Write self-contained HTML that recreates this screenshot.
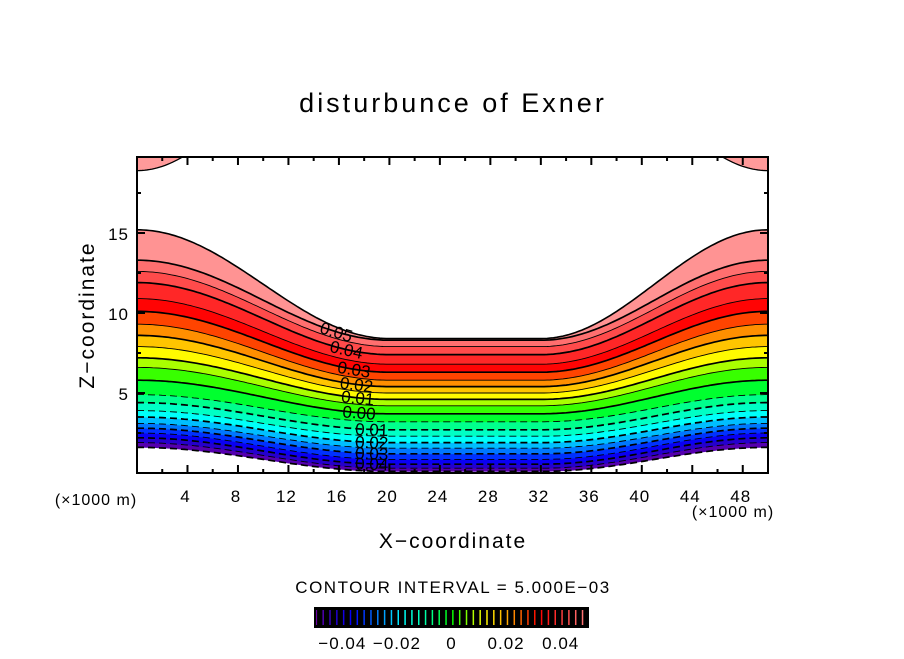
<!DOCTYPE html>
<html><head><meta charset="utf-8"><style>
html,body{margin:0;padding:0;background:#fff}
svg text{font-family:"Liberation Sans",sans-serif;fill:#000}
</style></head><body>
<svg id="chart" width="904" height="654" xmlns="http://www.w3.org/2000/svg">
<text x="453" y="112" font-size="27" text-anchor="middle" letter-spacing="3">disturbunce of Exner</text>
<g id="plot"></g>
<text transform="translate(94,315) rotate(-90)" font-size="21" text-anchor="middle" letter-spacing="2">Z−coordinate</text>
<text x="453" y="548" font-size="21" text-anchor="middle" letter-spacing="2">X−coordinate</text>
<text x="96" y="505" font-size="16" text-anchor="middle" letter-spacing="1">(×1000 m)</text>
<text x="733" y="517" font-size="16" text-anchor="middle" letter-spacing="1">(×1000 m)</text>
<text x="453" y="593" font-size="17" text-anchor="middle" letter-spacing="1.5">CONTOUR INTERVAL = 5.000E−03</text>
<g id="cbar"></g>
</svg>
<script>
// data
const levels = [-0.05,-0.045,-0.04,-0.035,-0.03,-0.025,-0.02,-0.015,-0.01,-0.005,0,0.005,0.01,0.015,0.02,0.025,0.03,0.035,0.04,0.045,0.05,0.055];
const edgeZ  = [1.6,1.9,2.2,2.5,2.8,3.1,3.5,3.9,4.4,4.9,5.8,6.6,7.2,7.9,8.6,9.3,10.1,10.9,11.9,12.6,13.3,15.2];
const centerZ= [0.1,0.3,0.55,0.85,1.2,1.55,1.9,2.3,2.7,3.2,3.7,4.2,4.6,5.0,5.4,5.8,6.3,6.8,7.4,7.9,8.3,8.4];
const labelLevels = [0.05,0.04,0.03,0.02,0.01,0,-0.01,-0.02,-0.03,-0.04];
const labelText = ["0.05","0.04","0.03","0.02","0.01","0.00","0.01","0.02","0.03","0.04"];
const labelX = [15.8,16.6,17.2,17.4,17.5,17.6,18.6,18.6,18.6,18.6];
const xTicks = [4,8,12,16,20,24,28,32,36,40,44,48];
const zTicks = [5,10,15];
const cbarTicks = [-0.04,-0.02,0,0.02,0.04];
const cbarTickText = ["−0.04","−0.02","0","0.02","0.04"];

const NS="http://www.w3.org/2000/svg";
const X0=137,X1=768,Y0=157,Y1=473, XMAX=50, ZMAX=19.75;
const sx=x=>X0+x/XMAX*(X1-X0);
const sz=z=>Y1-z/ZMAX*(Y1-Y0);
function shape(x){ if(x<20) return (1+Math.cos(Math.PI*x/20))/2; if(x>32) return (1-Math.cos(Math.PI*(x-32)/18))/2; return 0; }
function lz(i,x){ return centerZ[i]+shape(x)*(edgeZ[i]-centerZ[i]); }
function mk(tag,attrs,parent){const e=document.createElementNS(NS,tag);for(const k in attrs)e.setAttribute(k,attrs[k]);parent.appendChild(e);return e;}
const stops=[[-0.05,[110,0,160]],[-0.043,[40,0,200]],[-0.036,[0,0,255]],[-0.026,[0,140,255]],[-0.018,[0,255,255]],[-0.008,[0,255,150]],[0.0,[0,255,0]],[0.008,[180,255,0]],[0.012,[255,255,0]],[0.022,[255,150,0]],[0.032,[255,0,0]],[0.055,[255,165,165]]];
function col(v){ if(v<=stops[0][0])return 'rgb('+stops[0][1]+')';
 for(let i=1;i<stops.length;i++){ if(v<=stops[i][0]){const a=stops[i-1],b=stops[i],t=(v-a[0])/(b[0]-a[0]);return 'rgb('+a[1].map((c,j)=>Math.round(c+(b[1][j]-c)*t)).join(',')+')';}}
 return 'rgb('+stops[stops.length-1][1]+')';}
const plot=document.getElementById('plot');
const xs=[];for(let x=0;x<=XMAX+1e-9;x+=0.25)xs.push(x);
function curve(i){return xs.map(x=>sx(x).toFixed(1)+','+sz(lz(i,x)).toFixed(1));}
for(let i=0;i<levels.length-1;i++){
 const top=curve(i+1), bot=curve(i).reverse();
 const c=col((levels[i]+levels[i+1])/2);
 const p=mk('polygon',{points:top.concat(bot).join(' '),fill:c,stroke:c,'stroke-width':0.6},plot);
 
 
}
const cornerL=[],cornerR=[];
for(let x=0;x<=3.6;x+=0.2){cornerL.push(sx(x)+','+sz(18.9+0.066*x*x));}
const cl=mk('polygon',{points:[sx(0)+','+sz(ZMAX)].concat(cornerL).concat([sx(3.6)+','+sz(ZMAX)]).join(' '),fill:'#ff9a9a',stroke:'#000','stroke-width':1.3},plot);

for(let x=0;x<=3.6;x+=0.2){cornerR.push(sx(XMAX-x)+','+sz(18.9+0.066*x*x));}
const cr=mk('polygon',{points:[sx(XMAX)+','+sz(ZMAX)].concat(cornerR).concat([sx(XMAX-3.6)+','+sz(ZMAX)]).join(' '),fill:'#ff9a9a',stroke:'#000','stroke-width':1.3},plot);

for(let i=0;i<levels.length;i++){
 const v=levels[i], major=Math.abs(Math.round(v*100)-v*100)<1e-6;
 const attrs={points:curve(i).join(' '),fill:'none',stroke:'#000','stroke-width':(i===levels.length-1)?1.6:(major?1.7:0.9)};
 if(v<-1e-9)attrs['stroke-dasharray']='7,4';
 const l=mk('polyline',attrs,plot);
 
 
}
for(let k=0;k<labelLevels.length;k++){
 const i=levels.findIndex(v=>Math.abs(v-labelLevels[k])<1e-9);
 const x=labelX[k], px=sx(x), pz=sz(lz(i,x));
 const d=sz(lz(i,x+0.5))-sz(lz(i,x-0.5)), ang=Math.atan2(d,sx(x+0.5)-sx(x-0.5))*180/Math.PI;
 const t=mk('text',{x:px,y:pz+6,'font-size':17,'text-anchor':'middle',transform:`rotate(${ang.toFixed(1)},${px},${pz})`},plot);
 t.textContent=labelText[k];
 
 
}
const fr=mk('rect',{x:X0,y:Y0,width:X1-X0,height:Y1-Y0,fill:'none',stroke:'#000','stroke-width':2},plot);

const tg=mk('g',{stroke:'#000','stroke-width':2},plot);

for(let x=2;x<XMAX;x+=2){const L=(x%4===0)?8:4;mk('line',{x1:sx(x),x2:sx(x),y1:Y1,y2:Y1-L},tg);mk('line',{x1:sx(x),x2:sx(x),y1:Y0,y2:Y0+L},tg);}
for(let z=2.5;z<ZMAX;z+=2.5){const L=(z%5===0)?8:4;mk('line',{y1:sz(z),y2:sz(z),x1:X0,x2:X0+L},tg);mk('line',{y1:sz(z),y2:sz(z),x1:X1,x2:X1-L},tg);}
xTicks.forEach(x=>{const t=mk('text',{x:sx(x)-2,y:Y1+29,'font-size':17,'text-anchor':'middle','letter-spacing':1},plot);t.textContent=x;
 });
zTicks.forEach(z=>{const t=mk('text',{x:X0-8,y:sz(z)+7,'font-size':17,'text-anchor':'end','letter-spacing':1},plot);t.textContent=z;
 });
const cb=document.getElementById('cbar');
const CB0=315,CB1=588,CBY=608,CBH=19;
const cx=v=>CB0+(v+0.05)/0.1*(CB1-CB0);
const bg=mk('rect',{x:CB0,y:CBY,width:CB1-CB0,height:CBH,fill:'#000'},cb);

for(let v=-0.0495;v<0.05;v+=0.0025){const l=mk('line',{x1:cx(v),x2:cx(v),y1:CBY+2,y2:CBY+CBH-2,stroke:col(v),'stroke-width':1.5},cb);
 }
const cbo=mk('rect',{x:CB0,y:CBY,width:CB1-CB0,height:CBH,fill:'none',stroke:'#000','stroke-width':2},cb);

cbarTicks.forEach((v,k)=>{const t=mk('text',{x:cx(v),y:649,'font-size':17,'text-anchor':'middle','letter-spacing':1},cb);t.textContent=cbarTickText[k];
 });
</script>
</body></html>
